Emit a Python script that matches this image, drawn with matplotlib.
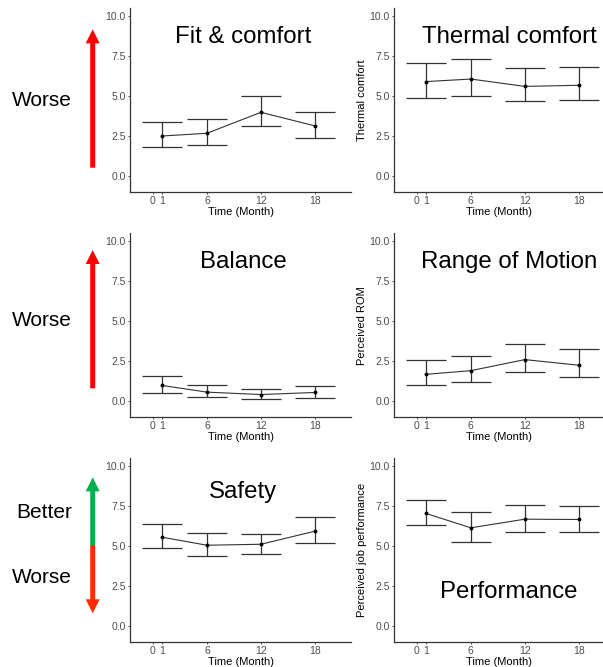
import numpy as np
import matplotlib.pyplot as plt
from matplotlib.patches import FancyArrow

plt.rcParams['font.family'] = ['Liberation Sans', 'DejaVu Sans']

# survey time points (months) and x tick labels
months = [1, 6, 12, 18]
tick_months = [0, 1, 6, 12, 18]
tick_labels = ['0', '1', '6', '12', '18']
y_ticks = [0, 2.5, 5, 7.5, 10]

# mean score and error bar limits per time point
fit_mean = [2.50, 2.67, 3.98, 3.13]
fit_lo = [1.79, 1.92, 3.10, 2.40]
fit_hi = [3.38, 3.56, 5.00, 4.00]

thermal_mean = [5.90, 6.06, 5.60, 5.67]
thermal_lo = [4.88, 5.02, 4.69, 4.73]
thermal_hi = [7.08, 7.29, 6.73, 6.79]

balance_mean = [0.99, 0.57, 0.42, 0.55]
balance_lo = [0.52, 0.25, 0.13, 0.23]
balance_hi = [1.59, 0.99, 0.74, 0.96]

rom_mean = [1.68, 1.91, 2.60, 2.25]
rom_lo = [0.99, 1.18, 1.80, 1.50]
rom_hi = [2.58, 2.83, 3.60, 3.25]

safety_mean = [5.54, 5.04, 5.10, 5.92]
safety_lo = [4.85, 4.35, 4.52, 5.15]
safety_hi = [6.36, 5.82, 5.73, 6.82]

perf_mean = [7.03, 6.13, 6.67, 6.65]
perf_lo = [6.28, 5.27, 5.86, 5.89]
perf_hi = [7.89, 7.11, 7.57, 7.47]

W, H = 603, 667
fig = plt.figure(figsize=(W / 100, H / 100), dpi=100)

LINE = '#333333'
TXT = '#4d4d4d'


def px_axes(x0, x1, y0, y1):
    # axes rectangle from pixel edges (top-left origin)
    return fig.add_axes([x0 / W, 1 - y1 / H, (x1 - x0) / W, (y1 - y0) / H])


def panel(ax, mean, lo, hi, title, tx, ty, ylabel=None, xmax=22):
    x = np.array(months)
    ax.vlines(x, lo, hi, color=LINE, lw=0.9)
    ax.hlines(lo, x - 2.2, x + 2.2, color=LINE, lw=0.9)
    ax.hlines(hi, x - 2.2, x + 2.2, color=LINE, lw=0.9)
    ax.plot(x, mean, color=LINE, lw=0.8, marker='o', ms=1.8,
            mfc='black', mec='black')
    ax.set_xlim(-2.55, xmax)
    ax.set_ylim(-1, 10.5)
    ax.set_xticks(tick_months)
    ax.set_xticklabels(tick_labels)
    ax.set_yticks(y_ticks)
    ax.set_yticklabels([f'{v:.1f}' for v in y_ticks])
    ax.tick_params(labelsize=7.5, labelcolor=TXT, color=LINE,
                   length=1.5, width=0.6, pad=1.5)
    for s in ['top', 'right']:
        ax.spines[s].set_visible(False)
    for s in ['left', 'bottom']:
        ax.spines[s].set_color(LINE)
        ax.spines[s].set_linewidth(0.9)
    ax.set_xlabel('Time (Month)', fontsize=8, labelpad=0.5)
    if ylabel:
        ax.set_ylabel(ylabel, fontsize=8, labelpad=2)
    ax.text(tx, ty, title, transform=ax.transAxes, fontsize=17.3,
            ha='center', va='center')


rows = [(8, 192), (233, 417.3), (458, 641.7)]
left_x = (130, 351)
right_x = (394, 603)

ax1 = px_axes(*left_x, *rows[0])
panel(ax1, fit_mean, fit_lo, fit_hi, 'Fit & comfort', 0.511, 0.842)
ax2 = px_axes(*right_x, *rows[0])
panel(ax2, thermal_mean, thermal_lo, thermal_hi, 'Thermal comfort', 0.55, 0.842,
      ylabel='Thermal comfort', xmax=20.7)

ax3 = px_axes(*left_x, *rows[1])
panel(ax3, balance_mean, balance_lo, balance_hi, 'Balance', 0.511, 0.844)
ax4 = px_axes(*right_x, *rows[1])
panel(ax4, rom_mean, rom_lo, rom_hi, 'Range of Motion', 0.55, 0.844,
      ylabel='Perceived ROM', xmax=20.7)

ax5 = px_axes(*left_x, *rows[2])
panel(ax5, safety_mean, safety_lo, safety_hi, 'Safety', 0.511, 0.817)
ax6 = px_axes(*right_x, *rows[2])
panel(ax6, perf_mean, perf_lo, perf_hi, 'Performance', 0.55, 0.269,
      ylabel='Perceived job performance', xmax=20.7)


def arrow(x, y_from, y_to, color):
    # vertical arrow drawn in figure inches (pixel / 100)
    a = FancyArrow(x / 100, (H - y_from) / 100, 0, -(y_to - y_from) / 100,
                   width=0.05, head_width=0.14, head_length=0.14,
                   length_includes_head=True, color=color, lw=0,
                   transform=fig.dpi_scale_trans)
    fig.patches.append(a)


def side_text(x, y, s):
    fig.text(x / W, 1 - y / H, s, fontsize=15, ha='center', va='center')


arrow(92.7, 167.7, 29.3, '#ff0000')
side_text(42, 100, 'Worse')

arrow(92.7, 388.3, 250, '#ff0000')
side_text(42, 320, 'Worse')

arrow(92.7, 545, 477.3, '#00b050')
arrow(92.7, 545, 613.3, '#ff2d00')
side_text(44, 512.7, 'Better')
side_text(42, 577.3, 'Worse')

fig.savefig('out.png', dpi=100)
